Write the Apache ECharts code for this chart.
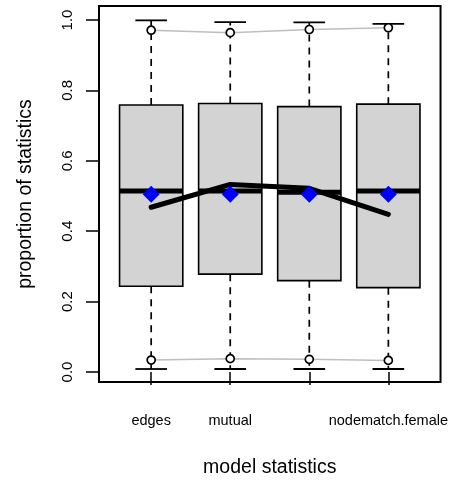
<!DOCTYPE html>
<html>
<head>
<meta charset="utf-8">
<script src="https://cdn.jsdelivr.net/npm/echarts@6/dist/echarts.min.js"></script>
<style>
  html, body { margin: 0; padding: 0; background: #fff; }
  #chart { width: 451px; height: 483px; }
</style>
</head>
<body>
<div id="chart"></div>
<script>
// Goodness-of-fit summary for the model statistics
const categories = ['edges', 'mutual', '', 'nodematch.female'];
const whiskerLow = [0.0085, 0.0085, 0.0085, 0.0085];
const lowerQuartile = [0.2435, 0.278, 0.2595, 0.2396];
const medians = [0.514, 0.514, 0.5105, 0.514];
const upperQuartile = [0.7585, 0.763, 0.754, 0.761];
const whiskerHigh = [0.999, 0.994, 0.993, 0.989];
const simulatedMean = [0.505, 0.505, 0.505, 0.505];
const observed = [0.468, 0.533, 0.522, 0.448];
const lowerBand = [0.034, 0.038, 0.036, 0.033];
const upperBand = [0.971, 0.964, 0.973, 0.978];
const yTicks = [0, 0.2, 0.4, 0.6, 0.8, 1.0];

const positions = categories.map((_, i) => i + 1);
const boxData = positions.map((x, i) => [x, whiskerLow[i], lowerQuartile[i], medians[i], upperQuartile[i], whiskerHigh[i]]);
const pairs = arr => arr.map((v, i) => [positions[i], v]);

const FONT = "'Liberation Sans', Arial, Helvetica, sans-serif";
const chart = echarts.init(document.getElementById('chart'), null, { renderer: 'canvas' });

function renderBox(params, api) {
  const x = api.value(0);
  const lo = api.coord([x, api.value(1)]);
  const q1 = api.coord([x, api.value(2)]);
  const med = api.coord([x, api.value(3)]);
  const q3 = api.coord([x, api.value(4)]);
  const hi = api.coord([x, api.value(5)]);
  const boxW = api.size([0.8, 0])[0];
  const capW = api.size([0.4, 0])[0];
  const cx = q1[0];
  const dashed = { stroke: '#000', lineWidth: 1.7, lineDash: [7, 6] };
  const solid = { stroke: '#000', lineWidth: 1.8 };
  return {
    type: 'group',
    children: [
      { type: 'line', shape: { x1: cx, y1: q3[1], x2: cx, y2: hi[1] }, style: dashed },
      { type: 'line', shape: { x1: cx, y1: q1[1], x2: cx, y2: lo[1] }, style: dashed },
      { type: 'line', shape: { x1: cx - capW / 2, y1: hi[1], x2: cx + capW / 2, y2: hi[1] }, style: solid },
      { type: 'line', shape: { x1: cx - capW / 2, y1: lo[1], x2: cx + capW / 2, y2: lo[1] }, style: solid },
      { type: 'rect', shape: { x: cx - boxW / 2, y: q3[1], width: boxW, height: q1[1] - q3[1] },
        style: { fill: '#d3d3d3', stroke: '#000', lineWidth: 1.6 } },
      { type: 'line', shape: { x1: cx - boxW / 2, y1: med[1], x2: cx + boxW / 2, y2: med[1] },
        style: { stroke: '#000', lineWidth: 5 } }
    ]
  };
}

const bandSeries = data => ({
  type: 'line',
  data: pairs(data),
  z: 4,
  symbol: 'circle',
  symbolSize: 8,
  showSymbol: true,
  lineStyle: { color: '#bebebe', width: 1.5 },
  itemStyle: { color: '#fff', borderColor: '#000', borderWidth: 1.7 },
  emphasis: { disabled: true }
});

chart.setOption({
  animation: false,
  backgroundColor: '#fff',
  textStyle: { fontFamily: FONT, color: '#000' },
  grid: {
    left: 99, right: 8, top: 6, bottom: 101,
    show: true, borderColor: '#000', borderWidth: 2, backgroundColor: 'transparent'
  },
  xAxis: {
    type: 'value',
    min: 0.34, max: 4.66,
    name: 'model statistics',
    nameLocation: 'middle',
    nameGap: 76,
    nameTextStyle: { fontSize: 19.5, color: '#000', fontFamily: FONT },
    axisLine: { show: false },
    splitLine: { show: false },
    axisTick: { show: true, customValues: positions, length: 13, lineStyle: { color: '#000', width: 1.5 } },
    axisLabel: {
      customValues: positions,
      margin: 31,
      fontSize: 14.5,
      color: '#000',
      fontFamily: FONT,
      formatter: v => categories[Math.round(v) - 1]
    }
  },
  yAxis: {
    type: 'value',
    min: -0.0284, max: 1.0398,
    name: 'proportion of statistics',
    nameLocation: 'middle',
    nameGap: 63,
    nameTextStyle: { fontSize: 19.5, color: '#000', fontFamily: FONT },
    axisLine: { show: false },
    splitLine: { show: false },
    axisTick: { show: true, customValues: yTicks, length: 13, lineStyle: { color: '#000', width: 1.5 } },
    axisLabel: {
      customValues: yTicks,
      rotate: 90,
      margin: 24,
      fontSize: 15,
      color: '#000',
      fontFamily: FONT,
      formatter: v => v.toFixed(1)
    }
  },
  series: [
    {
      type: 'custom',
      data: boxData,
      z: 2,
      encode: { x: 0, y: [1, 2, 3, 4, 5] },
      renderItem: renderBox
    },
    {
      type: 'line',
      data: pairs(observed),
      z: 3,
      symbol: 'none',
      lineStyle: { color: '#000', width: 5, cap: 'round', join: 'round' },
      emphasis: { disabled: true }
    },
    bandSeries(upperBand),
    bandSeries(lowerBand),
    {
      type: 'scatter',
      data: pairs(simulatedMean),
      z: 5,
      symbol: 'diamond',
      symbolSize: 17,
      itemStyle: { color: '#0000ff', opacity: 1 },
      emphasis: { disabled: true }
    }
  ]
});
</script>
</body>
</html>
